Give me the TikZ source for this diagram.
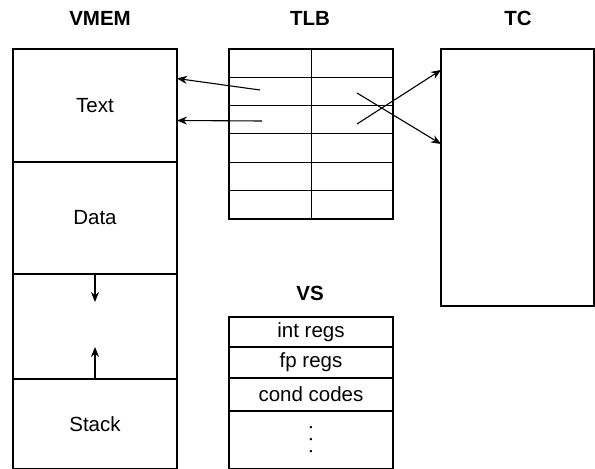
\documentclass[tikz,border=0pt]{standalone}
\usepackage{fontspec}
\setmainfont{Liberation Sans}
\usetikzlibrary{arrows.meta, positioning}

\begin{document}
\begin{tikzpicture}[
        x=1pt, y=1pt,
        font=\fontsize{20.5}{24}\selectfont,
        seg/.style={rectangle, draw, line width=1.4pt, minimum width=164pt, inner sep=0pt, outer sep=0pt, anchor=north west},
        cell/.style={rectangle, draw, line width=1pt, minimum width=82pt, minimum height=28.33pt, inner sep=0pt, outer sep=0pt, anchor=north west},
        title/.style={font=\fontsize{20.5}{24}\selectfont\bfseries},
        link/.style={->, line width=1.1pt},
        >={Stealth[length=10pt, width=8pt]}
    ]
    \useasboundingbox (0,0) rectangle (595,469);

    % Titles
    \node[title] (vmemlabel) at (100,451) {VMEM};
    \node[title] (tlblabel) at (310,451) {TLB};
    \node[title] (tclabel) at (518,451) {TC};
    \node[title] (vslabel) at (310,176) {VS};

    % VMEM
    \node[seg, minimum height=113pt] (text) at (13,420) {Text};
    \node[seg, minimum height=112pt, below=0pt of text] (data) {Data};
    \node[seg, minimum height=105pt, below=0pt of data] (gap) {};
    \node[seg, minimum height=90pt, below=0pt of gap] (stack) {Stack};
    \draw[link] (gap.north) -- ++(0,-28);
    \draw[link] (gap.south) -- ++(0,32);

    % TLB
    \foreach \r in {1,...,6} {
        \node[cell] (tl\r) at (229, {420-(\r-1)*28.33}) {};
        \node[cell, right=0pt of tl\r] (tr\r) {};
    }
    \draw[line width=1.4pt] (tl1.north west) rectangle (tr6.south east);

    % TC
    \node[seg, minimum width=153pt, minimum height=257pt] (tc) at (441,420) {};

    % TLB to VMEM
    \coordinate (p1) at (260,379);
    \coordinate (p2) at (262,348);
    \draw[link] (p1) -- ([yshift=27pt]text.east);
    \draw[link] (p2) -- ([yshift=-15pt]text.east);

    % TLB to TC
    \coordinate (p3) at (357,345);
    \coordinate (p4) at (357,376);
    \draw[link] (p3) -- ([yshift=-21pt]tc.north west);
    \draw[link] (p4) -- ([yshift=-95pt]tc.north west);

    % VS
    \node[seg, minimum height=30pt] (intregs) at (229,152) {int regs};
    \node[seg, minimum height=31pt, below=0pt of intregs] (fpregs) {fp regs};
    \node[seg, minimum height=33pt, below=0pt of fpregs] (condcodes) {cond codes};
    \node[seg, minimum height=58pt, below=0pt of condcodes] (rest) {};
    \node[rotate=90, inner sep=0pt] (dots) at (rest.center) {.\hspace{6.3pt}.\hspace{6.3pt}.};
\end{tikzpicture}
\end{document}
